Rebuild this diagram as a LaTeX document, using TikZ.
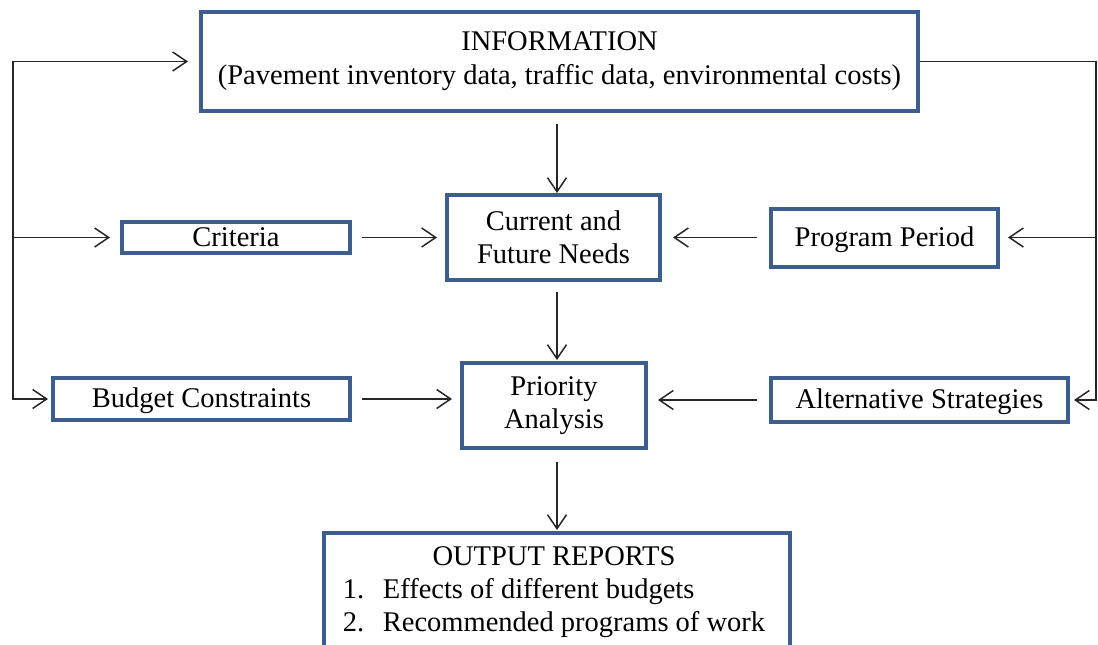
\documentclass[tikz,border=0pt]{standalone}
\usepackage{fontspec}
\setmainfont{Liberation Serif}
\usepackage{xcolor}
\usetikzlibrary{arrows.meta, positioning}

\definecolor{boxblue}{HTML}{3B5E8E}

\begin{document}
\begin{tikzpicture}[
    x=1pt, y=-1pt,
    font=\fontsize{28.5}{33}\selectfont,
    >={Straight Barb[length=14pt, width=19pt]},
    box/.style={rectangle, draw=boxblue, line width=4pt, fill=white, align=center, inner sep=3pt},
    single/.style={box, text height=21pt, text depth=4pt},
    arrow/.style={->, line width=1.5pt, draw=black!85},
    link/.style={line width=1.5pt, draw=black!85}
]
\clip (0,0) rectangle (1098,645);
\fill[white] (0,0) rectangle (1098,645);

% main column
\node[box, minimum width=717pt, minimum height=99pt, font=\fontsize{28.5}{34}\selectfont] (info) at (559.5,61.5) {INFORMATION\\(Pavement inventory data, traffic data, environmental costs)};
\node[box, minimum width=213pt, minimum height=85pt] (needs) at (553.5,237.5) {Current and\\Future Needs};
\node[box, minimum width=184pt, minimum height=85pt] (prio) at (554,405.5) {Priority\\Analysis};
\node[box, anchor=north, minimum width=466pt, inner ysep=9pt] (out) at (557,531) {\begin{tabular}{@{}l@{}}
    \multicolumn{1}{c}{OUTPUT REPORTS}\\
    \makebox[40pt][l]{1.}Effects of different budgets\\
    \makebox[40pt][l]{2.}Recommended programs of work
\end{tabular}\hspace{6pt}};

% side inputs
\node[single, minimum width=228pt, minimum height=31pt] (crit) at (236,237.5) {Criteria};
\node[single, minimum width=297pt, minimum height=42pt] (budget) at (201.5,399) {Budget Constraints};
\node[single, minimum width=227pt, minimum height=58pt] (period) at (884.5,237.5) {Program Period};
\node[single, minimum width=297pt, minimum height=44pt] (alt) at (919.5,400) {Alternative Strategies};

\coordinate (mid) at (557,0);
\coordinate (lb) at (13,399);
\coordinate (rb) at (1096,400);

\draw[arrow, shorten <=11pt, shorten >=0pt] (info.south -| mid) -- (needs.north -| mid);
\draw[arrow, shorten <=10pt, shorten >=1pt] (needs.south -| mid) -- (prio.north -| mid);
\draw[arrow, shorten <=12pt, shorten >=1pt] (prio.south -| mid) -- (out.north -| mid);

\draw[arrow, shorten <=10pt, shorten >=8pt] (crit.east) -- (needs.west |- crit.east);
\draw[arrow, shorten <=12pt, shorten >=11pt] (period.west) -- (needs.east |- period.west);
\draw[arrow, shorten <=10pt, shorten >=8pt] (budget.east) -- (prio.west |- budget.east);
\draw[arrow, shorten <=12pt, shorten >=10pt] (alt.west) -- (prio.east |- alt.west);

% feedback lines on both sides
\draw[arrow, <->, shorten <=11pt, shorten >=3pt] (info.west) -| (lb) -- (budget.west);
\draw[arrow, shorten >=10pt] (lb |- crit.west) -- (crit.west);
\draw[arrow, shorten >=4pt] (info.east) -| (rb) -- (alt.east);
\draw[arrow, shorten >=8pt] (rb |- period.east) -- (period.east);

\end{tikzpicture}
\end{document}
